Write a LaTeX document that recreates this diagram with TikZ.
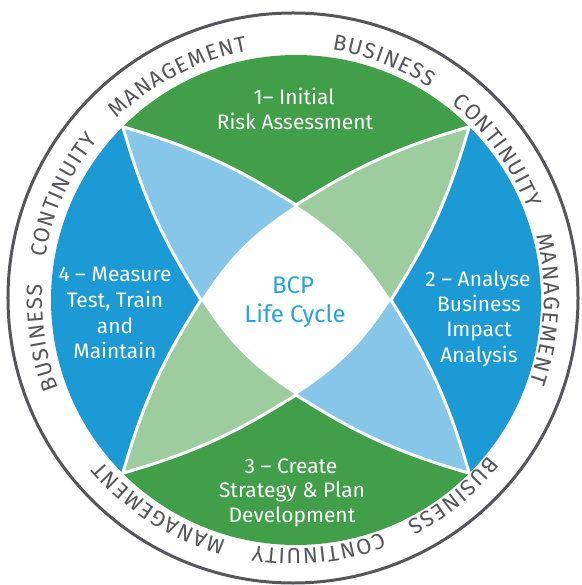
\documentclass[tikz,border=0pt]{standalone}
\usepackage{fontspec}
\setmainfont{Fira Sans}
\newfontfamily\ringfam{Fira Sans}
\newcommand\ringfont{\ringfam\fontsize{22}{22}\selectfont\color{ringgray}}
\newcommand\rk{\kern1.2pt}
\usetikzlibrary{decorations.text}
\definecolor{dgreen}{HTML}{409F48}
\definecolor{lgreen}{HTML}{9DCC9F}
\definecolor{dblue}{HTML}{1B9AD6}
\definecolor{lblue}{HTML}{86C7E9}
\definecolor{ctrblue}{HTML}{29A3DE}
\definecolor{ringgray}{HTML}{55555C}
\begin{document}
\begin{tikzpicture}[x=1pt,y=1pt,
  lbl/.style={text=white, font=\fontsize{21}{25}\selectfont, inner sep=0pt, anchor=base},
  ctr/.style={text=ctrblue, font=\fontsize{24}{29}\selectfont, inner sep=0pt, anchor=base},
  sep/.style={draw=white, line width=3pt},
  ringline/.style={draw=ringgray, line width=3pt},
  ringword/.style={decorate, decoration={text along path, text align=center, text={|\ringfont|#1}}}
  ]
\useasboundingbox (-294,-287) rectangle (287,298);
\fill[white] (-294,-287) rectangle (287,298);
% outer ring
\draw[ringline] (-1,0) circle[radius=285];
% coloured pinwheel
\begin{scope}[shift={(2,-2)}]
\foreach \r/\dk/\lt in {0/dgreen/lblue, -90/dblue/lgreen, -180/dgreen/lblue, -270/dblue/lgreen}{
  \begin{scope}[rotate=\r]
    \coordinate (TL) at (135:245);
    \coordinate (TR) at (45:245);
    \coordinate (T) at (0,95);
    \coordinate (L) at (-95,0);
    \fill[\dk] (TL) arc[start angle=135, end angle=45, radius=245] to[bend right=8] (T) to[bend right=8] (TL) -- cycle;
    \fill[\lt] (TL) to[bend left=8] (T) to[bend right=12] (L) to[bend left=8] (TL) -- cycle;
  \end{scope}
}
\foreach \r in {0,-90,-180,-270}{
  \begin{scope}[rotate=\r]
    \coordinate (TL) at (135:245);
    \coordinate (T) at (0,95);
    \coordinate (L) at (-95,0);
    \draw[sep] (L) to[bend left=8] (TL) to[bend left=8] (T);
  \end{scope}
}
\end{scope}
% ring text
\begin{scope}[shift={(-1,0)}]
\foreach \a in {0,-120,-240}{
  \pgfmathsetmacro\sa{\a+69+34}
  \pgfmathsetmacro\ea{\a+69-34}
  \path[ringword={B{\rk}U{\rk}S{\rk}I{\rk}N{\rk}E{\rk}S{\rk}S}] (\sa:251) arc[start angle=\sa, end angle=\ea, radius=251];
  \pgfmathsetmacro\sa{\a+35.8+34}
  \pgfmathsetmacro\ea{\a+35.8-34}
  \path[ringword={C{\rk}O{\rk}N{\rk}T{\rk}I{\rk}N{\rk}U{\rk}I{\rk}T{\rk}Y}] (\sa:251) arc[start angle=\sa, end angle=\ea, radius=251];
  \pgfmathsetmacro\sa{\a-2.5+34}
  \pgfmathsetmacro\ea{\a-2.5-34}
  \path[ringword={M{\rk}A{\rk}N{\rk}A{\rk}G{\rk}E{\rk}M{\rk}E{\rk}N{\rk}T}] (\sa:251) arc[start angle=\sa, end angle=\ea, radius=251];
}
\end{scope}
% labels
\node[lbl] (p1a) at (0,193) {1– Initial};
\node[lbl] (p1b) at (1,168) {Risk Assessment};
\node[lbl] (p2a) at (184,11) {2 – Analyse};
\node[lbl] (p2b) at (185,-14) {Business};
\node[lbl] (p2c) at (185,-39) {Impact};
\node[lbl] (p2d) at (185,-64) {Analysis};
\node[lbl] (p3a) at (-3,-175) {3 – Create};
\node[lbl] (p3b) at (-2,-199) {Strategy \& Plan};
\node[lbl] (p3c) at (-2,-224) {Development};
\node[lbl] (p4a) at (-179,16) {4 – Measure};
\node[lbl] (p4b) at (-179,-10) {Test, Train};
\node[lbl] (p4c) at (-179,-36) {and};
\node[lbl] (p4d) at (-179,-61) {Maintain};
\node[ctr] (c1) at (-1,4) {BCP};
\node[ctr] (c2) at (1,-25) {Life Cycle};
\end{tikzpicture}
\end{document}
